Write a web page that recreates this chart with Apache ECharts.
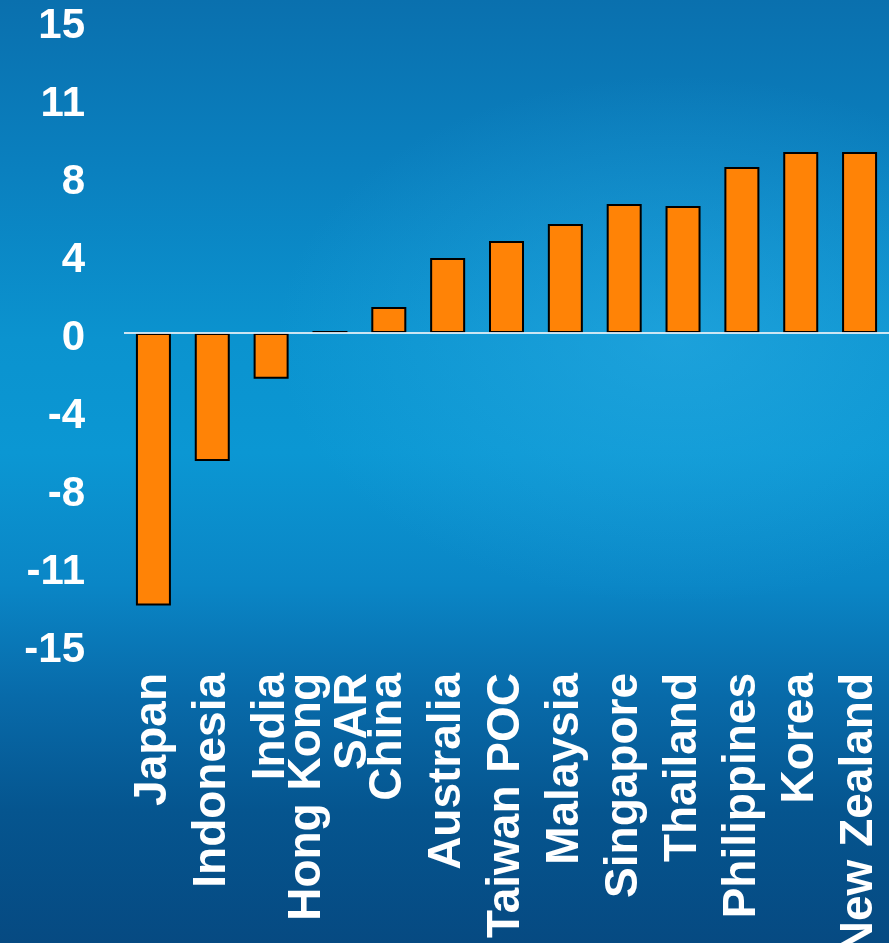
<!DOCTYPE html>
<html>
<head>
<meta charset="utf-8">
<script src="https://cdn.jsdelivr.net/npm/echarts@6.0.0/dist/echarts.min.js"></script>
<style>
html, body { margin: 0; padding: 0; }
#main {
    width: 889px;
    height: 943px;
    background:
        radial-gradient(ellipse 45% 28% at 76% 36%, rgba(45,175,230,0.5), rgba(45,175,230,0) 100%),
        linear-gradient(to bottom, #0a70ae 0%, #0a80bf 18%, #0b93cf 36%, #0b97d3 48%, #0a86c6 62%, #086aa9 74%, #05558f 86%, #064a82 100%);
}
</style>
</head>
<body>
<div id="main"></div>
<script>
// categories and values
var countries = ['Japan', 'Indonesia', 'India', 'Hong Kong\nSAR', 'China', 'Australia', 'Taiwan POC',
    'Malaysia', 'Singapore', 'Thailand', 'Philippines', 'Korea', 'New Zealand'];
var values = [-13.1, -6.15, -2.2, 0.1, 1.25, 3.6, 4.42, 5.24, 6.2, 6.1, 7.98, 8.7, 8.7];
var yMin = -15;
var yMax = 15;
var yStep = 3.75;

var myChart = echarts.init(document.getElementById('main'));

var option = {
    backgroundColor: 'transparent',
    animation: false,
    grid: {
        left: 124,
        right: 0,
        top: 21,
        bottom: 298,
        outerBoundsMode: 'none',
        containLabel: false
    },
    xAxis: {
        type: 'category',
        data: countries,
        axisLine: {show: false, onZero: false},
        axisTick: {show: false},
        axisLabel: {
            interval: 0,
            rotate: 90,
            margin: 28,
            color: '#ffffff',
            fontFamily: 'Liberation Sans',
            fontWeight: 'bold',
            fontSize: 46,
            lineHeight: 46
        }
    },
    yAxis: {
        type: 'value',
        min: yMin,
        max: yMax,
        interval: yStep,
        axisLine: {show: false},
        axisTick: {show: false},
        splitLine: {show: false},
        axisLabel: {
            margin: 39,
            verticalAlign: 'top',
            lineHeight: 10,
            color: '#ffffff',
            fontFamily: 'Liberation Sans',
            fontWeight: 'bold',
            fontSize: 42,
            formatter: function (v) {
                var r = Math.round(Math.abs(v));
                return (v < 0 && r !== 0 ? '-' : '') + r;
            }
        }
    },
    series: [
        {
            type: 'bar',
            data: values,
            barWidth: 35,
            itemStyle: {
                color: '#ff8306',
                borderColor: '#000000',
                borderWidth: 2
            },
            markLine: {
                silent: true,
                symbol: 'none',
                label: {show: false},
                lineStyle: {
                    color: 'rgba(225,238,246,0.9)',
                    type: 'solid',
                    width: 2
                },
                data: [{yAxis: 0}]
            }
        }
    ]
};

myChart.setOption(option);
</script>
</body>
</html>
